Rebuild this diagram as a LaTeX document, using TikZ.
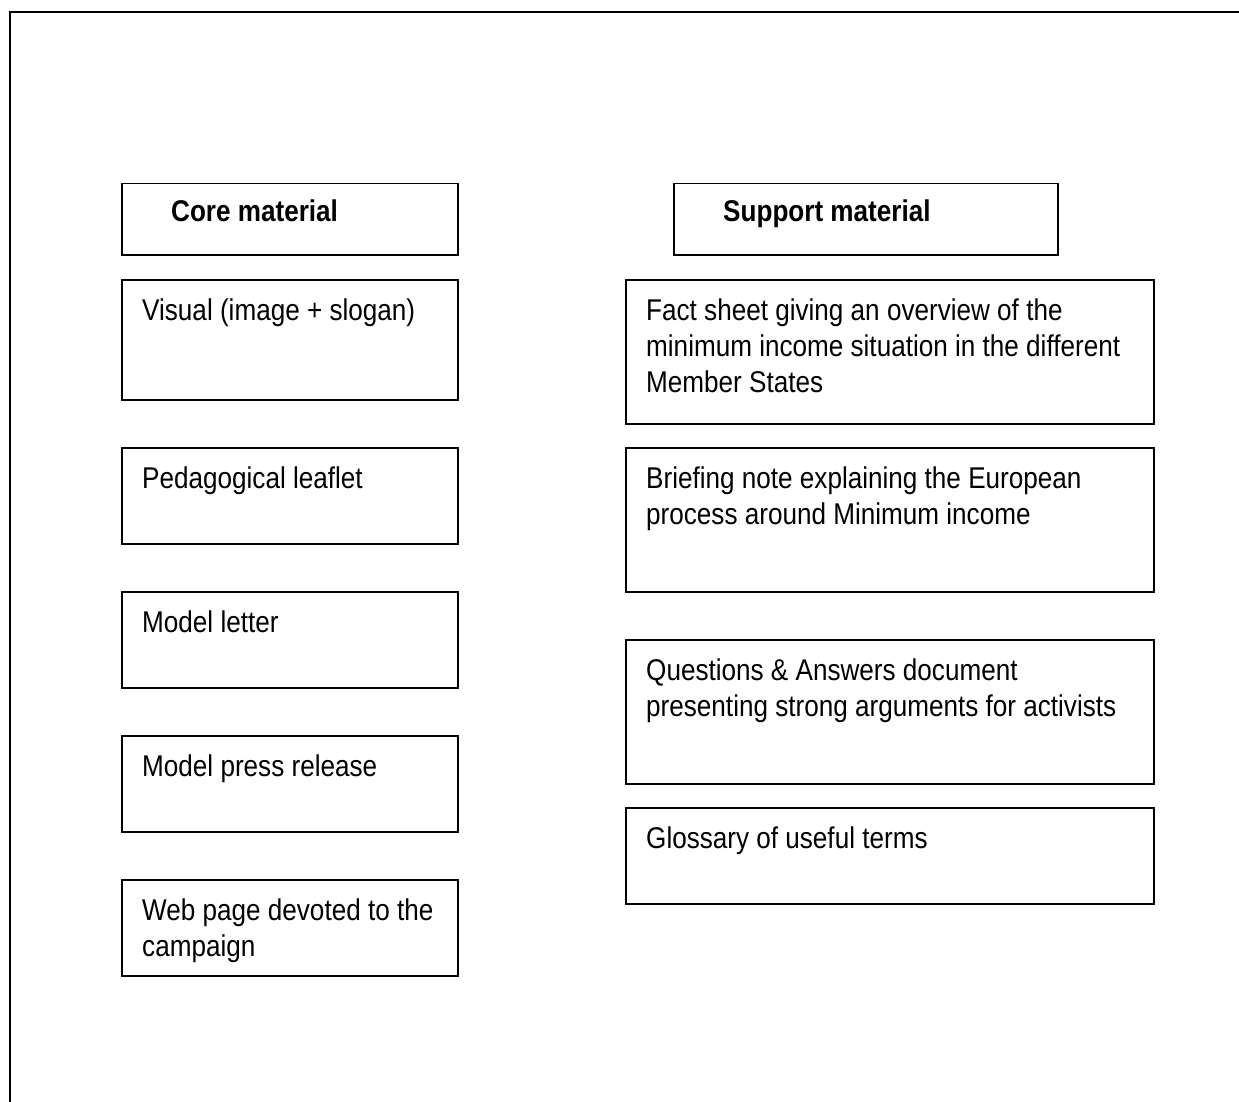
\documentclass[tikz,border=0pt]{standalone}
\usepackage{fontspec}
\setmainfont{Liberation Sans}[FakeStretch=0.87]

\tikzset{
  itembox/.style = {draw, line width = 1.5pt, anchor = north west,
    inner sep = 0pt, minimum width = #1},
  itembox/.default = 336pt,
  itemtext/.style = {anchor = base west, inner sep = 0pt,
    font = \fontsize{30}{36}\selectfont},
  headtext/.style = {itemtext, font = \fontsize{30}{36}\selectfont\bfseries}
}

\begin{document}
\begin{tikzpicture}[x = 1pt, y = -1pt]
  \useasboundingbox (0, 0) rectangle (1239, 1102);
  \draw[line width = 2pt] (10, 1102) -- (10, 12) -- (1239, 12);

  % left column
  \node[itembox, minimum height = 71pt] (core) at (121, 183) {};
  \node[headtext, xshift = 50pt, yshift = -39pt] (coret) at (core.north west)
    {Core material};

  \node[itembox, minimum height = 120pt] (visual) at (121, 279) {};
  \node[itemtext, xshift = 21pt, yshift = -41pt] (visualt) at (visual.north west)
    {Visual (image + slogan)};

  \node[itembox, minimum height = 96pt] (leaflet) at (121, 447) {};
  \node[itemtext, xshift = 21pt, yshift = -41pt] (leaflett) at (leaflet.north west)
    {Pedagogical leaflet};

  \node[itembox, minimum height = 96pt] (letter) at (121, 591) {};
  \node[itemtext, xshift = 21pt, yshift = -41pt] (lettert) at (letter.north west)
    {Model letter};

  \node[itembox, minimum height = 96pt] (press) at (121, 735) {};
  \node[itemtext, xshift = 21pt, yshift = -41pt] (presst) at (press.north west)
    {Model press release};

  \node[itembox, minimum height = 96pt] (web) at (121, 879) {};
  \node[itemtext, xshift = 21pt, yshift = -41pt] (webt) at (web.north west)
    {\parbox[t]{320pt}{Web page devoted to the\\campaign}};

  % right column
  \node[itembox = 384pt, minimum height = 71pt] (support) at (673, 183) {};
  \node[headtext, xshift = 50pt, yshift = -39pt] (supportt) at (support.north west)
    {Support material};

  \node[itembox = 528pt, minimum height = 144pt] (fact) at (625, 279) {};
  \node[itemtext, xshift = 21pt, yshift = -41pt] (factt) at (fact.north west)
    {\parbox[t]{500pt}{Fact sheet giving an overview of the\\
      minimum income situation in the different\\Member States}};

  \node[itembox = 528pt, minimum height = 144pt] (brief) at (625, 447) {};
  \node[itemtext, xshift = 21pt, yshift = -41pt] (brieft) at (brief.north west)
    {\parbox[t]{500pt}{Briefing note explaining the European\\
      process around Minimum income}};

  \node[itembox = 528pt, minimum height = 144pt] (qa) at (625, 639) {};
  \node[itemtext, xshift = 21pt, yshift = -41pt] (qat) at (qa.north west)
    {\parbox[t]{500pt}{Questions \& Answers document\\
      presenting strong arguments for activists}};

  \node[itembox = 528pt, minimum height = 96pt] (gloss) at (625, 807) {};
  \node[itemtext, xshift = 21pt, yshift = -41pt] (glosst) at (gloss.north west)
    {Glossary of useful terms};
\end{tikzpicture}
\end{document}
